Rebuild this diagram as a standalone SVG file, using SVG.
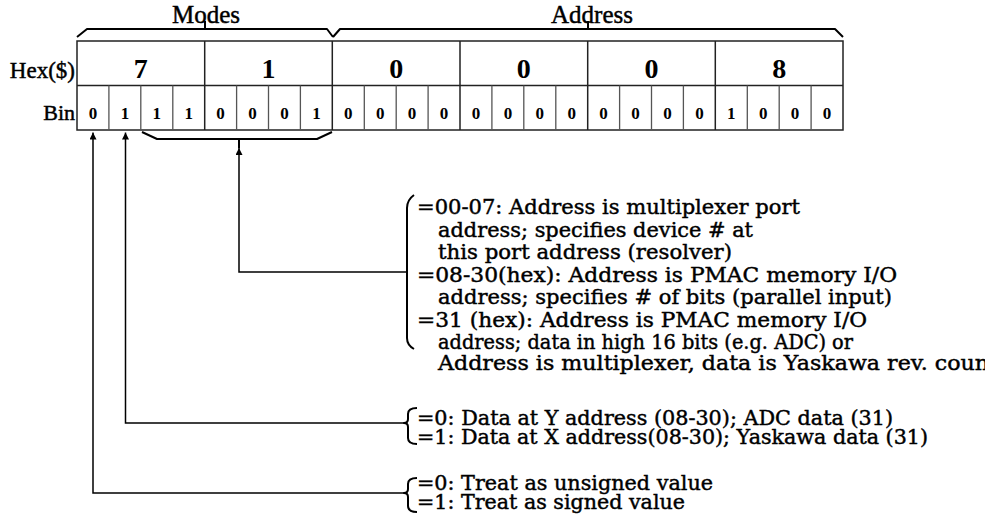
<svg xmlns="http://www.w3.org/2000/svg" width="985" height="523" viewBox="0 0 985 523">
  <style>
    .lbl { font-family: "Liberation Serif", "Times New Roman", serif; fill: #000; stroke: #000; stroke-width: 0.45; }
    .hex { font-family: "Liberation Serif", "Times New Roman", serif; font-weight: bold; font-size: 28px; text-anchor: middle; fill: #000; }
    .bin { font-family: "Liberation Serif", "Times New Roman", serif; font-weight: bold; font-size: 17px; text-anchor: middle; fill: #000; }
    .body { font-family: "DejaVu Serif", "Liberation Serif", serif; font-size: 21px; fill: #000; stroke: #000; stroke-width: 0.45; }
    .grid { stroke: #555; stroke-width: 1.3; fill: none; }
    .gridk { stroke: #222; stroke-width: 1.5; fill: none; }
    .brace { stroke: #000; stroke-width: 2; fill: none; stroke-linejoin: round; }
    .wire { stroke: #000; stroke-width: 1.5; fill: none; }
  </style>
  <defs>
    <marker id="arr" viewBox="0 0 10 10" refX="10" refY="5" markerWidth="7" markerHeight="7" markerUnits="userSpaceOnUse" orient="auto">
      <path d="M0,0 L10,5 L0,10 Z" fill="#000"/>
    </marker>
  </defs>

  <!-- field braces above the register -->
  <g id="modes-field">
    <path class="brace" d="M77,37 L87,29 L327,29 L333,37 M205,29 L205,21"/>
    <text class="lbl" x="206" y="23" font-size="25" text-anchor="middle">Modes</text>
  </g>
  <g id="address-field">
    <path class="brace" d="M333,37 L340,29 L835,29 L843,37 M588,29 L588,21"/>
    <text class="lbl" x="592" y="23" font-size="25" text-anchor="middle">Address</text>
  </g>

  <!-- register: hex row and bit row -->
  <g id="register">
    <text class="lbl" x="75" y="78" font-size="23" text-anchor="end">Hex($)</text>
    <text class="lbl" x="75" y="120" font-size="22" text-anchor="end">Bin</text>
    <rect class="gridk" x="77" y="41" width="766" height="89"/>
    <line class="gridk" x1="77" y1="85.5" x2="843" y2="85.5"/>
    <path class="grid" d="M108.9,85.5V130 M140.8,85.5V130 M172.8,85.5V130 M236.6,85.5V130 M268.5,85.5V130 M300.4,85.5V130 M364.3,85.5V130 M396.2,85.5V130 M428.1,85.5V130 M491.9,85.5V130 M523.8,85.5V130 M555.8,85.5V130 M619.6,85.5V130 M651.5,85.5V130 M683.4,85.5V130 M747.3,85.5V130 M779.2,85.5V130 M811.1,85.5V130"/>
    <path class="gridk" d="M204.7,41V130 M332.3,41V130 M460,41V130 M587.7,41V130 M715.3,41V130"/>
    <text class="hex" x="140.8" y="78">7</text>
    <text class="hex" x="268.5" y="78">1</text>
    <text class="hex" x="396.2" y="78">0</text>
    <text class="hex" x="523.8" y="78">0</text>
    <text class="hex" x="651.5" y="78">0</text>
    <text class="hex" x="779.2" y="78">8</text>
    <text class="bin" y="119">
      <tspan x="93">0</tspan><tspan x="124.9">1</tspan><tspan x="156.8">1</tspan><tspan x="188.7">1</tspan><tspan x="220.6">0</tspan><tspan x="252.5">0</tspan><tspan x="284.5">0</tspan><tspan x="316.4">1</tspan><tspan x="348.3">0</tspan><tspan x="380.2">0</tspan><tspan x="412.1">0</tspan><tspan x="444">0</tspan><tspan x="476">0</tspan><tspan x="507.9">0</tspan><tspan x="539.8">0</tspan><tspan x="571.7">0</tspan><tspan x="603.6">0</tspan><tspan x="635.5">0</tspan><tspan x="667.5">0</tspan><tspan x="699.4">0</tspan><tspan x="731.3">1</tspan><tspan x="763.2">0</tspan><tspan x="795.1">0</tspan><tspan x="827">0</tspan>
    </text>
  </g>

  <!-- brace under bits 2..7 -->
  <g id="port-bits">
    <path class="brace" d="M142,132 L157,139 L317,139 L332,132 M239,139 L239,148"/>
  </g>

  <!-- leader lines from the bits to their descriptions -->
  <g id="connectors">
    <path class="wire" d="M406,272 L239,272 L239,148" marker-end="url(#arr)"/>
    <path class="wire" d="M405,423 L125.5,423 L125.5,132.5" marker-end="url(#arr)"/>
    <path class="wire" d="M405,493 L93,493 L93,132.5" marker-end="url(#arr)"/>
  </g>

  <!-- description of bits 2..7 -->
  <g id="mode-desc">
    <path class="brace" d="M414,195 Q407,200 407,208 L407,338 Q407,345 414,349"/>
    <text class="body" x="417" y="214" textLength="383" lengthAdjust="spacingAndGlyphs">=00-07: Address is multiplexer port</text>
    <text class="body" x="438" y="236.5" textLength="315" lengthAdjust="spacingAndGlyphs">address; specifies device # at</text>
    <text class="body" x="438" y="259" textLength="294" lengthAdjust="spacingAndGlyphs">this port address (resolver)</text>
    <text class="body" x="417" y="281.5" textLength="480" lengthAdjust="spacingAndGlyphs">=08-30(hex): Address is PMAC memory I/O</text>
    <text class="body" x="438" y="304" textLength="454" lengthAdjust="spacingAndGlyphs">address; specifies # of bits (parallel input)</text>
    <text class="body" x="417" y="326.5" textLength="450" lengthAdjust="spacingAndGlyphs">=31 (hex): Address is PMAC memory I/O</text>
    <text class="body" x="438" y="348.5" textLength="415" lengthAdjust="spacingAndGlyphs">address; data in high 16 bits (e.g. ADC) or</text>
    <text class="body" x="438" y="370" textLength="551" lengthAdjust="spacingAndGlyphs">Address is multiplexer, data is Yaskawa rev. coun</text>
  </g>

  <!-- description of bit 1 -->
  <g id="xy-desc">
    <path class="brace" d="M417,408 Q408,408 408,414 L408,419 Q408,423 404,423 Q408,423 408,427 L408,438 Q408,444 417,444"/>
    <text class="body" x="417" y="425" textLength="476" lengthAdjust="spacingAndGlyphs">=0: Data at Y address (08-30); ADC data (31)</text>
    <text class="body" x="417" y="444" textLength="511" lengthAdjust="spacingAndGlyphs">=1: Data at X address(08-30); Yaskawa data (31)</text>
  </g>

  <!-- description of bit 0 -->
  <g id="sign-desc">
    <path class="brace" d="M417,478 Q408,478 408,484 L408,489 Q408,493 404,493 Q408,493 408,497 L408,506 Q408,512 417,512"/>
    <text class="body" x="417" y="490" textLength="296" lengthAdjust="spacingAndGlyphs">=0: Treat as unsigned value</text>
    <text class="body" x="417" y="509" textLength="268" lengthAdjust="spacingAndGlyphs">=1: Treat as signed value</text>
  </g>
</svg>
